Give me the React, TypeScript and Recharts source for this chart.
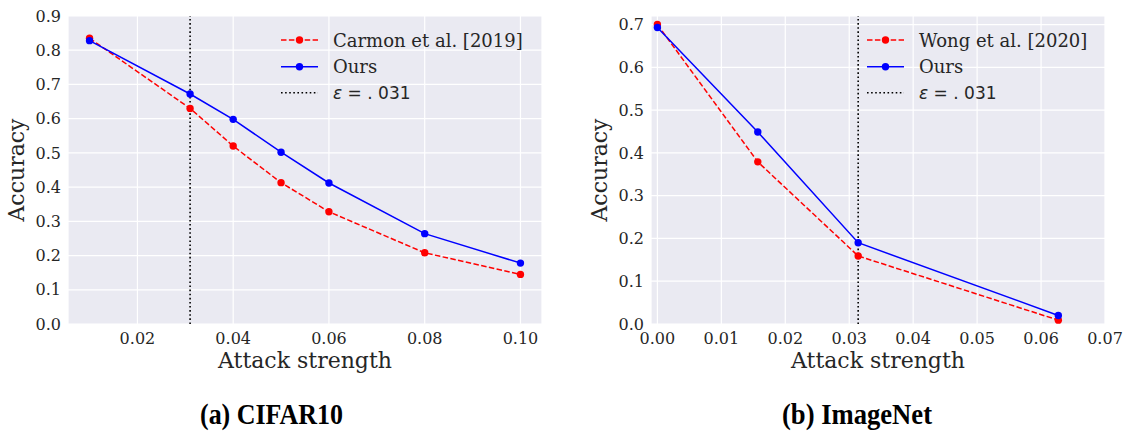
import React from 'react';
import { LineChart, Line, XAxis, YAxis, CartesianGrid, ReferenceLine, Legend } from 'recharts';

// ---- data ----
const cifarEps = [0.01, 0.031, 0.04, 0.05, 0.06, 0.08, 0.1];
const cifarCarmon = [0.835, 0.63, 0.52, 0.413, 0.328, 0.208, 0.145];
const cifarOurs = [0.828, 0.672, 0.598, 0.502, 0.412, 0.264, 0.178];
const cifarXTicks = [0.02, 0.04, 0.06, 0.08, 0.1];
const cifarYTicks = [0, 0.1, 0.2, 0.3, 0.4, 0.5, 0.6, 0.7, 0.8, 0.9];
const cifarThreshold = 0.031;

const imagenetEps = [0, 0.0157, 0.0314, 0.0627];
const imagenetWong = [0.7, 0.379, 0.159, 0.009];
const imagenetOurs = [0.693, 0.449, 0.19, 0.02];
const imagenetXTicks = [0, 0.01, 0.02, 0.03, 0.04, 0.05, 0.06, 0.07];
const imagenetYTicks = [0, 0.1, 0.2, 0.3, 0.4, 0.5, 0.6, 0.7];
const imagenetThreshold = 0.0314;

const cifarBaselineName = 'Carmon et al. [2019]';
const imagenetBaselineName = 'Wong et al. [2020]';
const oursName = 'Ours';
const xLabel = 'Attack strength';
const yLabel = 'Accuracy';
const captionA = '(a) CIFAR10';
const captionB = '(b) ImageNet';

const cifarData = cifarEps.map((x, i) => ({ x, base: cifarCarmon[i], ours: cifarOurs[i] }));
const imagenetData = imagenetEps.map((x, i) => ({ x, base: imagenetWong[i], ours: imagenetOurs[i] }));

// ---- styles ----
const SERIF = "'DejaVu Serif', serif";
const SANS = "'DejaVu Sans', sans-serif";
const TEXT = '#262626';
const RED = '#FF0000';
const BLUE = '#0000FF';
const BG = '#EAEAF2';

const tickStyle = { fill: TEXT, fontFamily: SERIF, fontSize: 16 };
const labelStyle = { fill: TEXT, fontFamily: SERIF, fontSize: 22, textAnchor: 'middle' as const };

function LegendBox({ baseName }: { baseName: string }) {
  const rows = [15, 41.7, 67.7];
  return (
    <svg width={260} height={85} style={{ display: 'block', overflow: 'visible' }}>
      <line x1={6} x2={43} y1={rows[0]} y2={rows[0]} stroke={RED} strokeWidth={1.5} strokeDasharray="5.5 2.4" />
      <circle cx={24.5} cy={rows[0]} r={3.7} fill={RED} />
      <text x={58} y={rows[0] + 6.5} fill={TEXT} fontFamily={SERIF} fontSize={18}>{baseName}</text>
      <line x1={6} x2={43} y1={rows[1]} y2={rows[1]} stroke={BLUE} strokeWidth={1.5} />
      <circle cx={24.5} cy={rows[1]} r={3.7} fill={BLUE} />
      <text x={58} y={rows[1] + 6.5} fill={TEXT} fontFamily={SERIF} fontSize={18}>{oursName}</text>
      <line x1={6} x2={43} y1={rows[2]} y2={rows[2]} stroke="#000" strokeWidth={1.6} strokeDasharray="1.6 2.5" />
      <text x={58} y={rows[2] + 6.5} fill={TEXT} fontFamily={SANS} fontSize={17}>
        <tspan fontStyle="italic">ε</tspan>
        <tspan>{' = . 031'}</tspan>
      </text>
    </svg>
  );
}

type PanelProps = {
  data: { x: number; base: number; ours: number }[];
  width: number;
  yAxisWidth: number;
  marginRight: number;
  xDomain: [number, number];
  yDomain: [number, number];
  xTicks: number[];
  yTicks: number[];
  threshold: number;
  baseName: string;
  legendLeft: number;
  yLabelOffset: number;
};

function Panel(p: PanelProps) {
  return (
    <LineChart
      width={p.width}
      height={380}
      data={p.data}
      margin={{ top: 16, right: p.marginRight, bottom: 0, left: 0 }}
    >
      <CartesianGrid fill={BG} stroke="#FFFFFF" strokeWidth={1.2} />
      <XAxis
        type="number"
        dataKey="x"
        domain={p.xDomain}
        ticks={p.xTicks}
        interval={0}
        allowDataOverflow
        axisLine={false}
        tickLine={false}
        tickSize={0}
        tickMargin={9}
        height={56}
        tick={tickStyle}
        tickFormatter={(v: number) => v.toFixed(2)}
        label={{ value: xLabel, position: 'insideBottom', offset: 12, style: labelStyle }}
      />
      <YAxis
        type="number"
        domain={p.yDomain}
        ticks={p.yTicks}
        interval={0}
        allowDataOverflow
        axisLine={false}
        tickLine={false}
        tickSize={0}
        tickMargin={7}
        width={p.yAxisWidth}
        tick={tickStyle}
        tickFormatter={(v: number) => v.toFixed(1)}
        label={{ value: yLabel, angle: -90, position: 'insideLeft', offset: p.yLabelOffset, style: labelStyle }}
      />
      <Line
        type="linear"
        dataKey="base"
        stroke={RED}
        strokeWidth={1.5}
        strokeDasharray="5.5 2.4"
        dot={{ r: 3.7, fill: RED, stroke: 'none', strokeDasharray: '' }}
        activeDot={false}
        isAnimationActive={false}
      />
      <Line
        type="linear"
        dataKey="ours"
        stroke={BLUE}
        strokeWidth={1.5}
        dot={{ r: 3.7, fill: BLUE, stroke: 'none' }}
        activeDot={false}
        isAnimationActive={false}
      />
      <ReferenceLine x={p.threshold} stroke="#000" strokeWidth={1.6} strokeDasharray="1.6 2.5" />
      <Legend
        layout="vertical"
        align="center"
        verticalAlign="middle"
        content={() => <LegendBox baseName={p.baseName} />}
        wrapperStyle={{ left: p.legendLeft, top: 25, width: 260, height: 85, margin: 0 }}
      />
    </LineChart>
  );
}

export default function App() {
  return (
    <div style={{ position: 'absolute', left: 0, top: 0, width: 1128, height: 433, background: '#fff', overflow: 'hidden' }}>
      <div style={{ position: 'absolute', left: 0, top: 0 }}>
        <Panel
          data={cifarData}
          width={560}
          yAxisWidth={68}
          marginRight={18}
          xDomain={[0.0055, 0.1045]}
          yDomain={[0, 0.9]}
          xTicks={cifarXTicks}
          yTicks={cifarYTicks}
          threshold={cifarThreshold}
          baseName={cifarBaselineName}
          legendLeft={275}
          yLabelOffset={16.5}
        />
      </div>
      <div style={{ position: 'absolute', left: 560, top: 0 }}>
        <Panel
          data={imagenetData}
          width={568}
          yAxisWidth={91}
          marginRight={23}
          xDomain={[-0.001, 0.07]}
          yDomain={[0, 0.72]}
          xTicks={imagenetXTicks}
          yTicks={imagenetYTicks}
          threshold={imagenetThreshold}
          baseName={imagenetBaselineName}
          legendLeft={301}
          yLabelOffset={39.5}
        />
      </div>
      <svg style={{ position: 'absolute', left: 0, top: 380 }} width={1128} height={53}>
        <text x={200} y={44.3} fontFamily="'Liberation Serif', 'Times New Roman', serif" fontWeight="bold" fontSize={29} fill="#000" textLength={143} lengthAdjust="spacingAndGlyphs">{captionA}</text>
        <text x={782} y={44.3} fontFamily="'Liberation Serif', 'Times New Roman', serif" fontWeight="bold" fontSize={29} fill="#000" textLength={150} lengthAdjust="spacingAndGlyphs">{captionB}</text>
      </svg>
    </div>
  );
}
